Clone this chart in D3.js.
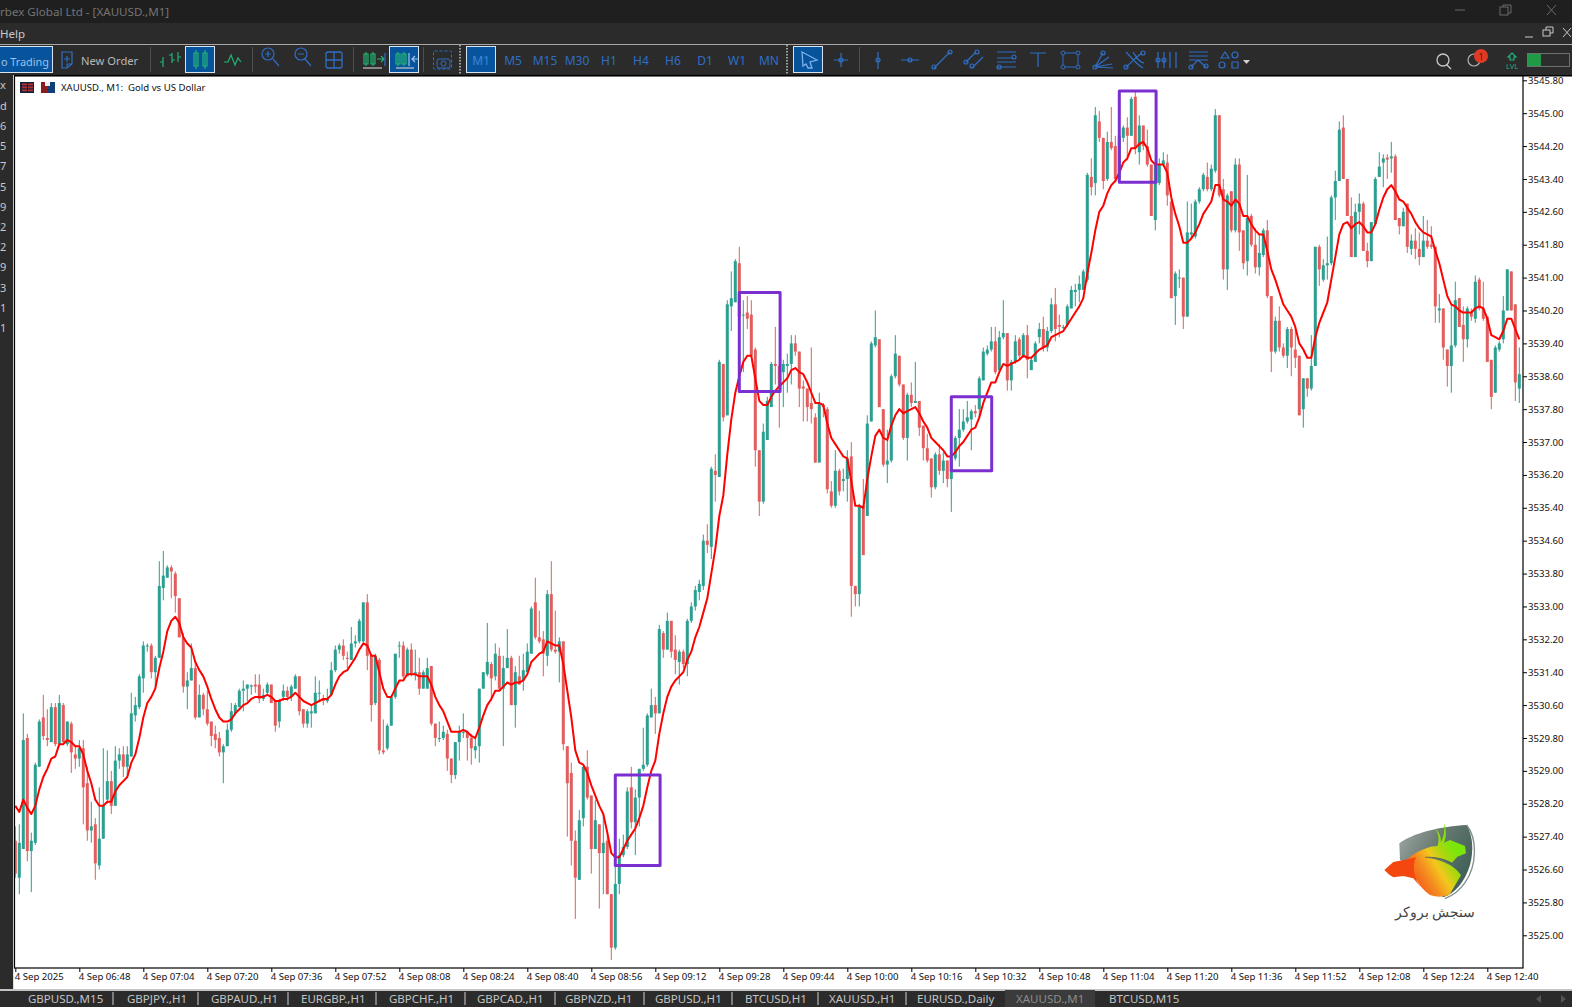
<!DOCTYPE html>
<html>
<head>
<meta charset="utf-8">
<title>XAUUSD M1</title>
<script src="https://cdn.jsdelivr.net/npm/d3@7"></script>
<style>
  html, body { margin: 0; padding: 0; background: #2b2b2b; overflow: hidden; }
  svg { display: block; }
  text { font-family: "Noto Sans", "Liberation Sans", sans-serif; }
</style>
</head>
<body>
<svg id="chart" width="1572" height="1007"></svg>
<script>
// all prices are stored as offset from this base
const priceBase = 3500;

const opens = [
27.3,26.4,27.1,29.8,27.05,27.25,29.1,30.3,29.8,29.7,
30.55,29.65,30.6,29.65,30.15,29.4,29.3,29.55,28.7,27.55,
27.7,26.7,27.35,28.3,28.75,28.15,29.25,29.4,29.1,29.35,
30.35,30.55,31.25,32.05,32.05,31.4,31.75,33.45,33.7,33.95,
33.8,33.2,32.25,31.05,31.2,31.5,30.3,30.85,30.5,30.2,
29.9,29.8,29.45,29.6,30.0,30.4,30.55,30.95,31.0,31.05,
31.1,31.1,30.75,30.9,31.1,30.7,30.2,30.8,30.95,30.8,
31.0,31.3,30.5,30.15,30.4,30.4,30.9,30.75,30.7,30.85,
31.45,31.95,32.05,31.75,31.7,32.1,32.15,32.15,33.1,31.8,
30.65,31.7,29.5,29.55,30.1,30.8,32.05,32.05,31.3,31.95,
31.35,31.4,31.0,31.0,31.55,30.15,29.8,29.8,29.9,29.3,
28.9,29.7,29.95,29.95,29.8,29.5,29.6,31.0,31.35,31.6,
31.3,31.8,31.0,31.5,31.75,30.6,31.3,31.2,31.4,31.85,
33.1,32.25,32.2,31.8,33.3,31.95,31.9,32.15,29.6,28.95,
27.3,26.35,27.85,29.1,28.4,27.1,27.7,27.0,27.3,26.0,
24.7,26.25,26.95,27.15,28.6,27.75,28.35,29.05,29.15,30.3,
30.6,30.4,32.35,31.95,32.65,31.95,31.65,31.9,31.6,32.65,
33.0,33.35,33.5,34.6,34.45,36.3,36.15,38.9,37.65,40.3,
40.4,41.35,40.1,40.15,40.1,39.25,36.8,35.55,37.05,37.85,
38.9,38.85,38.7,38.85,38.9,39.4,39.2,38.35,38.3,37.95,
37.6,36.5,37.9,37.8,35.8,35.45,36.3,36.05,36.1,36.65,
33.5,33.3,35.45,35.2,37.5,39.35,39.5,37.8,36.45,36.55,
38.6,39.1,38.4,37.1,38.15,37.95,38.0,37.4,36.85,36.6,
35.9,36.7,36.3,36.55,36.1,36.6,37.1,37.3,37.5,37.55,
37.75,37.8,38.5,39.15,39.25,39.45,38.75,39.55,39.65,38.5,
38.95,39.5,39.1,39.6,38.75,38.95,39.55,39.75,39.3,39.7,
40.35,39.85,39.8,39.85,40.25,40.65,40.7,40.7,40.95,43.45,
43.3,44.8,44.4,43.4,44.3,44.2,43.4,44.4,44.65,44.45,
45.4,44.05,44.7,44.2,43.75,42.4,43.3,43.75,43.8,42.85,
40.55,41.0,41.0,40.05,42.05,42.0,42.85,43.15,43.45,43.15,
43.6,44.95,43.15,41.2,43.1,42.15,43.75,42.15,41.4,42.5,
41.8,41.25,41.55,42.15,40.55,39.2,39.95,39.3,39.1,39.75,
39.25,39.1,37.8,38.55,38.3,38.85,41.75,40.95,41.3,41.35,
42.95,43.35,44.65,43.4,42.5,41.5,42.6,42.8,41.65,41.4,
42.3,43.45,43.8,43.92,43.9,43.95,42.45,42.25,42.8,41.7,
41.9,41.7,41.5,41.9,41.8,41.75,40.2,40.25,39.25,38.85,
39.35,40.5,39.85,39.5,40.15,40.0,40.95,40.25,40.05,39.0,
38.2,39.25,39.5,40.2,41.15,40.35,38.3];

const closes = [
26.5,27.25,29.75,27.05,27.3,29.15,30.2,29.85,29.75,30.55,
29.65,30.65,29.7,30.2,29.45,29.3,29.55,28.6,27.55,27.65,
26.75,27.35,28.15,28.75,28.15,29.25,29.4,29.1,29.4,30.4,
30.6,31.3,32.05,32.05,31.4,31.75,33.5,33.75,33.95,33.85,
33.25,32.25,31.05,31.2,31.5,30.3,30.85,30.5,30.15,29.85,
29.75,29.45,29.6,30.0,30.45,30.6,30.95,31.0,31.1,31.08,
31.05,30.75,30.85,31.1,30.65,30.1,30.7,30.95,30.8,31.05,
31.3,30.45,30.15,30.45,30.45,30.9,30.9,30.7,30.75,31.45,
31.95,32.05,31.8,31.73,32.1,32.15,32.65,33.1,31.8,30.6,
31.8,29.5,29.45,30.1,30.8,31.85,32.05,31.3,31.95,31.35,
31.4,31.0,31.4,31.5,30.15,29.8,29.8,29.95,29.3,28.9,
29.7,29.95,29.95,29.8,29.55,29.6,31.0,31.4,31.65,31.25,
31.85,31.0,31.5,31.75,30.6,31.4,31.1,31.45,31.9,32.95,
32.25,32.15,31.85,33.3,31.95,31.9,32.15,29.65,28.7,27.3,
26.4,27.8,29.1,28.35,27.1,27.8,27.0,27.25,26.0,24.7,
26.25,26.95,27.15,28.5,27.75,28.35,29.05,29.15,30.35,30.6,
30.4,32.45,31.95,32.65,31.9,31.7,31.9,31.6,32.65,33.0,
33.4,33.55,34.6,34.5,36.35,36.2,38.95,37.6,40.35,40.5,
41.4,40.05,40.1,40.0,39.1,36.8,35.55,37.25,38.0,38.9,
38.85,38.3,38.9,38.9,39.4,39.2,38.3,38.3,37.85,37.8,
36.5,37.95,37.85,35.85,35.45,36.3,35.8,36.1,36.6,33.5,
33.3,35.45,34.25,37.45,39.4,39.55,37.85,36.45,36.55,38.6,
39.15,38.4,37.1,38.15,37.95,38.0,37.35,36.85,36.55,35.9,
36.7,36.3,36.55,36.1,36.6,37.1,37.3,37.5,37.6,37.75,
37.7,38.55,39.2,39.25,39.45,38.7,39.55,39.65,38.5,38.95,
39.45,39.1,39.6,39.0,39.0,39.4,39.75,39.3,39.7,40.35,
39.75,39.8,39.8,40.3,40.7,40.7,40.85,41.15,43.5,43.2,
44.95,44.4,43.35,44.3,44.15,43.4,44.45,44.65,44.45,45.35,
44.15,44.7,44.2,43.75,42.5,43.75,43.75,43.85,43.0,40.5,
41.1,41.0,40.05,42.1,42.1,42.85,43.15,43.5,43.15,43.65,
44.95,43.0,41.2,43.0,42.15,43.75,42.1,41.35,42.45,41.8,
41.25,41.6,42.15,40.55,39.2,39.95,39.3,39.1,39.75,39.3,
39.05,37.65,38.55,38.3,38.85,41.75,41.2,41.3,41.35,42.95,
43.35,44.6,43.4,42.5,41.5,42.6,42.8,41.65,41.4,42.35,
43.4,43.7,43.9,43.87,43.95,42.4,42.25,42.6,41.75,41.9,
41.7,41.5,41.9,41.75,41.75,40.3,40.25,39.3,38.85,39.35,
40.45,39.8,39.5,40.25,40.05,40.9,40.25,40.0,38.95,38.1,
39.3,39.4,40.2,41.2,40.2,38.45,38.65];

const highs = [
27.65,27.7,30.4,29.9,27.5,29.2,30.25,30.85,30.5,30.65,
30.65,30.85,30.65,30.2,30.2,29.6,29.75,29.75,29.1,28.25,
27.85,28.6,29.55,29.5,29.0,29.6,29.55,29.6,29.6,30.9,
30.8,31.35,32.15,32.1,32.1,31.8,34.1,34.35,34.0,34.0,
33.85,33.2,32.35,31.4,32.1,31.65,31.1,30.9,30.95,30.2,
30.1,29.95,29.65,30.15,30.65,30.65,31.0,31.2,31.1,31.1,
31.35,31.35,31.0,31.15,31.1,30.7,30.75,31.1,31.05,31.1,
31.35,31.3,30.5,30.5,30.6,31.3,31.2,30.85,31.0,31.65,
32.05,32.1,32.2,31.9,32.5,32.3,32.7,33.1,33.3,31.85,
31.85,31.75,30.25,30.15,30.85,31.85,32.15,32.15,32.0,32.1,
31.95,31.75,31.45,31.75,31.55,30.15,30.2,30.1,30.0,29.3,
29.7,30.1,30.4,29.98,29.9,29.8,31.0,31.4,32.6,31.65,
32.1,32.0,31.8,32.45,31.8,31.55,31.8,31.85,32.1,33.0,
33.7,32.9,32.4,33.4,34.1,32.9,32.25,32.15,29.6,29.2,
27.55,28.05,29.1,29.5,28.4,28.3,27.7,27.95,27.5,26.0,
26.75,27.35,27.45,28.6,29.1,28.55,29.05,30.05,30.4,31.0,
30.8,32.55,32.4,32.85,32.65,32.3,31.95,31.95,32.7,33.1,
33.5,33.65,34.75,35.0,36.4,36.7,39.0,38.9,40.45,41.15,
41.45,41.75,40.45,40.55,40.45,39.3,36.8,37.45,38.1,38.95,
39.8,38.9,39.0,39.15,39.6,39.6,39.2,38.5,38.3,39.3,
37.7,38.2,37.95,37.85,36.05,36.8,36.35,36.35,36.8,37.0,
33.5,35.5,36.1,37.65,39.45,40.2,39.5,37.8,37.3,38.65,
39.6,39.1,38.4,38.2,38.45,38.95,38.0,37.4,37.2,36.6,
36.75,36.95,36.75,36.55,36.7,37.15,37.8,37.8,38.0,37.8,
37.9,38.6,39.3,39.35,39.8,39.8,39.7,40.45,39.65,39.0,
39.6,39.55,39.65,39.85,39.05,39.45,39.9,40.05,39.8,40.5,
40.75,40.1,39.85,40.35,40.8,40.85,41.05,41.2,43.55,43.9,
45.15,45.05,44.4,44.55,45.15,44.45,44.5,44.7,44.9,45.4,
45.55,44.95,44.7,44.6,43.75,43.85,43.9,44.05,44.0,42.9,
41.15,41.2,41.0,42.85,42.8,42.9,43.2,43.55,43.8,43.75,
45.1,44.95,43.4,43.05,43.1,43.9,43.9,42.15,43.5,42.55,
42.2,42.05,42.2,42.4,40.55,40.05,40.3,39.4,39.8,39.8,
39.8,39.1,38.55,38.55,39.6,41.75,41.8,41.45,42.0,43.0,
43.6,44.8,44.95,43.4,42.95,42.8,43.05,42.85,41.85,42.35,
43.45,44.05,44.0,44.0,44.3,44.0,42.45,42.7,42.8,42.05,
42.2,42.1,42.5,42.4,42.25,41.75,40.6,40.25,39.25,40.35,
40.9,40.5,40.3,40.3,40.25,41.05,41.0,40.9,40.05,39.0,
39.35,39.45,40.55,41.2,41.15,40.35,39.3];

const lows = [
26.4,26.0,27.1,26.8,26.05,27.2,29.1,29.75,29.6,29.7,
29.6,29.6,29.65,29.6,28.95,29.05,29.1,27.7,27.3,27.25,
26.35,26.6,27.35,28.2,27.95,28.15,29.05,28.85,28.85,29.35,
30.2,30.5,30.9,31.9,31.25,31.0,31.75,33.15,33.7,33.2,
32.85,32.25,30.9,30.5,31.2,30.25,30.3,30.35,30.1,29.6,
29.55,29.35,28.7,29.6,29.95,30.35,30.55,30.45,30.7,30.85,
30.9,30.65,30.7,30.85,30.65,29.95,30.05,30.7,30.7,30.7,
31.0,30.35,30.05,30.05,30.05,30.4,30.7,30.6,30.65,30.85,
31.4,31.85,31.7,31.5,31.7,32.0,32.1,32.1,31.45,30.2,
30.6,29.4,29.4,29.5,30.1,30.75,31.75,31.25,31.3,31.3,
31.2,30.85,31.0,31.0,30.1,29.6,29.7,29.75,29.0,28.7,
28.8,29.25,29.8,29.25,29.15,29.3,29.2,31.0,31.3,30.7,
31.2,30.95,29.6,31.5,30.6,30.05,31.1,30.95,31.4,31.85,
32.2,32.1,31.3,31.55,31.9,31.85,31.15,29.5,27.4,26.7,
25.4,26.35,27.65,28.3,26.5,27.1,25.65,26.0,26.0,24.4,
24.65,26.0,26.9,27.1,27.6,26.95,27.65,29.0,29.1,30.3,
29.9,30.4,31.75,31.95,31.75,31.35,31.1,31.5,31.3,32.6,
32.9,33.15,33.4,34.3,34.15,35.55,36.15,37.5,37.65,39.7,
40.4,38.7,38.7,39.75,39.1,36.4,35.2,35.5,37.05,37.85,
38.4,37.35,37.85,38.2,38.4,39.1,37.85,37.5,37.5,37.45,
36.5,36.5,37.6,35.75,35.4,35.4,35.7,35.8,35.55,32.75,
33.0,33.0,34.25,35.2,37.5,39.3,37.85,36.4,36.0,36.5,
38.55,38.35,37.05,36.55,37.85,37.95,37.15,36.55,36.5,35.65,
35.85,36.2,36.0,35.9,35.3,36.55,36.4,37.25,37.45,36.8,
37.6,37.6,38.5,39.1,39.2,38.65,38.7,39.5,38.25,38.25,
38.9,39.0,39.05,38.55,38.75,38.95,39.4,39.2,39.2,39.65,
39.45,39.55,39.75,39.8,40.25,40.3,40.4,40.7,40.9,43.0,
43.0,44.3,43.15,43.35,44.1,43.35,43.35,44.3,43.85,44.45,
44.0,43.75,44.1,43.7,42.5,42.15,43.25,43.7,42.75,40.5,
39.85,40.75,39.75,40.05,41.95,41.95,42.8,43.1,43.1,43.1,
43.55,42.95,40.95,40.7,42.1,42.1,41.65,41.2,41.05,41.75,
41.1,41.05,41.5,40.5,38.7,39.15,39.2,39.05,38.8,38.6,
38.8,37.65,37.35,38.1,38.25,38.85,40.8,40.9,40.95,41.3,
42.4,43.35,43.4,42.5,41.5,41.5,42.05,41.65,41.25,41.4,
42.3,43.45,43.2,43.4,43.55,42.4,42.05,42.25,41.6,41.55,
41.45,41.3,41.5,41.7,41.7,39.9,39.9,39.0,38.35,38.2,
39.3,39.8,38.95,39.3,39.95,39.9,40.2,39.95,38.95,37.8,
38.2,39.2,39.4,40.2,40.2,38.0,37.95];

// red moving average, one value per bar
const maValues = [
28.15,28.0,28.3,28.1,27.95,28.15,28.55,28.85,29.05,29.3,
29.35,29.65,29.65,29.75,29.7,29.6,29.6,29.4,29.0,28.7,
28.3,28.15,28.15,28.25,28.25,28.5,28.65,28.75,28.85,29.2,
29.4,29.8,30.3,30.65,30.8,31.0,31.5,31.9,32.4,32.65,
32.75,32.6,32.25,32.1,32.0,31.65,31.45,31.3,31.05,30.75,
30.5,30.3,30.2,30.2,30.25,30.4,30.5,30.6,30.65,30.75,
30.8,30.8,30.8,30.85,30.8,30.7,30.7,30.75,30.75,30.8,
30.9,30.8,30.7,30.65,30.6,30.65,30.7,30.75,30.75,30.85,
31.1,31.3,31.4,31.45,31.6,31.75,31.95,32.1,32.05,31.8,
31.8,31.4,31.0,30.8,30.8,31.0,31.2,31.2,31.35,31.35,
31.35,31.3,31.3,31.3,31.1,30.8,30.6,30.45,30.2,29.95,
29.95,29.95,30.0,29.95,29.85,29.8,30.05,30.35,30.6,30.75,
30.95,30.95,31.05,31.15,31.1,31.15,31.15,31.2,31.35,31.65,
31.75,31.85,31.9,32.15,32.1,32.05,32.05,31.6,30.95,30.3,
29.5,29.2,29.15,28.95,28.65,28.4,28.15,27.95,27.5,27.0,
26.9,26.9,27.1,27.3,27.45,27.6,27.85,28.15,28.6,29.0,
29.25,29.9,30.4,30.8,31.05,31.2,31.3,31.4,31.7,31.9,
32.25,32.5,32.85,33.2,33.8,34.4,35.2,35.7,36.7,37.55,
38.2,38.6,38.95,39.1,39.1,38.55,38.0,37.9,37.9,38.1,
38.25,38.35,38.45,38.55,38.75,38.8,38.7,38.65,38.45,38.2,
37.95,37.95,37.9,37.45,37.1,36.95,36.8,36.65,36.6,36.05,
35.45,35.45,35.4,36.1,36.65,37.15,37.3,37.1,37.05,37.4,
37.65,37.8,37.7,37.75,37.8,37.85,37.7,37.5,37.35,37.1,
37.0,36.9,36.8,36.65,36.65,36.75,36.9,37.0,37.15,37.3,
37.35,37.6,37.95,38.2,38.45,38.45,38.7,38.9,38.85,38.9,
38.95,39.0,39.1,39.05,39.05,39.15,39.25,39.3,39.35,39.55,
39.6,39.65,39.7,39.85,40.0,40.15,40.3,40.5,41.1,41.6,
42.15,42.6,42.75,43.05,43.25,43.35,43.55,43.8,43.9,44.15,
44.15,44.25,44.3,44.15,43.85,43.75,43.75,43.75,43.55,42.95,
42.55,42.25,41.85,41.85,41.95,42.1,42.3,42.55,42.7,42.85,
43.25,43.25,42.9,42.85,42.75,42.9,42.8,42.5,42.5,42.3,
42.15,42.05,42.05,41.65,41.2,40.95,40.65,40.35,40.2,40.05,
39.8,39.4,39.25,39.05,39.05,39.55,39.9,40.15,40.4,40.95,
41.5,42.05,42.3,42.35,42.2,42.3,42.35,42.25,42.1,42.1,
42.3,42.65,42.95,43.15,43.25,43.1,42.9,42.85,42.7,42.55,
42.35,42.2,42.1,42.05,42.0,41.65,41.35,40.95,40.55,40.35,
40.3,40.2,40.15,40.15,40.15,40.25,40.3,40.25,40.0,39.6,
39.55,39.5,39.7,40.0,40.0,39.75,39.5];

const priceTicks = [
3545.8,3545.0,3544.2,3543.4,3542.6,3541.8,3541.0,3540.2,3539.4,3538.6,3537.8,3537.0,3536.2,
3535.4,3534.6,3533.8,3533.0,3532.2,3531.4,3530.6,3529.8,3529.0,3528.2,3527.4,3526.6,3525.8,3525.0];

const timeLabels = [
'4 Sep 2025','4 Sep 06:48','4 Sep 07:04','4 Sep 07:20','4 Sep 07:36','4 Sep 07:52','4 Sep 08:08','4 Sep 08:24',
'4 Sep 08:40','4 Sep 08:56','4 Sep 09:12','4 Sep 09:28','4 Sep 09:44','4 Sep 10:00','4 Sep 10:16','4 Sep 10:32',
'4 Sep 10:48','4 Sep 11:04','4 Sep 11:20','4 Sep 11:36','4 Sep 11:52','4 Sep 12:08','4 Sep 12:24','4 Sep 12:40'];
const barsPerLabel = 16;

// purple boxes drawn on the chart, in bar index and price
const boxStart = [150, 181, 234, 276];
const boxEnd = [161.2, 191.2, 244.1, 285.2];
const boxHigh = [3528.9, 3540.64, 3538.1, 3545.54];
const boxLow = [3526.7, 3538.23, 3536.3, 3543.32];

const tabNames = ['GBPUSD.,M15','GBPJPY.,H1','GBPAUD.,H1','EURGBP.,H1','GBPCHF.,H1','GBPCAD.,H1','GBPNZD.,H1','GBPUSD.,H1','BTCUSD,H1','XAUUSD.,H1','EURUSD.,Daily','XAUUSD.,M1','BTCUSD,M15'];
const tabStarts = [28,127,211,301,389,477,565,655,745,829,917,1016,1109];
const tabSeparators = [113,198,288,376,465,555,644,732,818,906];

const timeframes = ['M1','M5','M15','M30','H1','H4','H6','D1','W1','MN'];
const leftStripChars = ['x','d','6','5','7','5','9','2','2','9','3','1','1'];

const GREEN = '#2c9f90', RED = '#e25d5d', BLUE = '#2f6ec6', BTN = '#07549c';

const svg = d3.select('#chart');

function label(parent, x, y, str, size, fill, anchor) {
  return parent.append('text').attr('x', x).attr('y', y)
    .attr('font-size', size).attr('fill', fill)
    .attr('text-anchor', anchor || 'start').attr('dominant-baseline', 'central')
    .text(str);
}

// page backgrounds
svg.append('rect').attr('width', 1572).attr('height', 1007).attr('fill', '#2b2b2b');
svg.append('rect').attr('width', 1572).attr('height', 23).attr('fill', '#1f1f1f');
svg.append('rect').attr('y', 44).attr('width', 1572).attr('height', 1).attr('fill', '#a8a8a8');
svg.append('rect').attr('x', 14).attr('y', 75).attr('width', 1558).attr('height', 915).attr('fill', '#fff');
svg.append('rect').attr('y', 75).attr('width', 1572).attr('height', 1.5).attr('fill', '#000');
svg.append('rect').attr('x', 0).attr('y', 75).attr('width', 13).attr('height', 915).attr('fill', '#2b2b2b');
svg.append('rect').attr('x', 13).attr('y', 75).attr('width', 1).attr('height', 915).attr('fill', '#ddd');
svg.append('rect').attr('y', 989).attr('width', 1572).attr('height', 2).attr('fill', '#c4c4c4');

// scales
const plotArea = { left: 15, right: 1523, top: 76, bottom: 968 };
const xScale = d3.scaleLinear().domain([0, opens.length - 1]).range([15.3, 1519.3]);
const yScale = d3.scaleLinear().domain([3545.8, 3525.0]).range([80.3, 935.3]);
const yPrice = v => yScale(priceBase + v);

svg.append('clipPath').attr('id', 'plot').append('rect')
  .attr('x', plotArea.left).attr('y', plotArea.top)
  .attr('width', plotArea.right - plotArea.left).attr('height', plotArea.bottom - plotArea.top);

const plot = svg.append('g').attr('clip-path', 'url(#plot)');
const candles = plot.append('g').selectAll('g').data(opens).join('g');

candles.append('line')
  .attr('x1', (d, i) => xScale(i)).attr('x2', (d, i) => xScale(i))
  .attr('y1', (d, i) => yPrice(highs[i])).attr('y2', (d, i) => yPrice(lows[i]))
  .attr('stroke', (d, i) => closes[i] >= d ? GREEN : RED).attr('stroke-width', 1);

candles.append('rect')
  .attr('x', (d, i) => xScale(i) - 1.5).attr('width', 3)
  .attr('y', (d, i) => yPrice(Math.max(d, closes[i])))
  .attr('height', (d, i) => Math.max(1, Math.abs(yPrice(d) - yPrice(closes[i]))))
  .attr('fill', (d, i) => closes[i] >= d ? GREEN : RED);

plot.append('path').datum(maValues)
  .attr('fill', 'none').attr('stroke', '#f00').attr('stroke-width', 2).attr('stroke-linejoin', 'round')
  .attr('d', d3.line().x((d, i) => xScale(i)).y(d => yPrice(d)));

plot.append('g').selectAll('rect').data(boxStart).join('rect')
  .attr('x', d => xScale(d))
  .attr('width', (d, i) => xScale(boxEnd[i]) - xScale(d))
  .attr('y', (d, i) => yScale(boxHigh[i]))
  .attr('height', (d, i) => yScale(boxLow[i]) - yScale(boxHigh[i]))
  .attr('fill', 'none').attr('stroke', '#7b2fd1').attr('stroke-width', 3).attr('stroke-linejoin', 'round');

// axes
const yAxis = d3.axisRight(yScale).tickValues(priceTicks).tickFormat(d3.format('.2f')).tickSize(4).tickSizeOuter(0);
const yAxisG = svg.append('g').attr('transform', `translate(${plotArea.right},0)`).call(yAxis);
yAxisG.select('.domain').remove();
yAxisG.selectAll('text').attr('x', 5).attr('font-size', 9.6).attr('fill', '#111').attr('font-family', '"Noto Sans", sans-serif');

const xTicks = timeLabels.map((d, i) => i * barsPerLabel);
const xAxis = d3.axisBottom(xScale).tickValues(xTicks).tickFormat((d, i) => timeLabels[i]).tickSize(4).tickSizeOuter(0);
const xAxisG = svg.append('g').attr('transform', `translate(0,${plotArea.bottom})`).call(xAxis);
xAxisG.select('.domain').remove();
xAxisG.selectAll('text').attr('text-anchor', 'start').attr('x', -1).attr('y', 5).attr('dy', '0.71em')
  .attr('font-size', 9.6).attr('fill', '#111').attr('font-family', '"Noto Sans", sans-serif');

// outline around the plot
svg.append('rect').attr('x', plotArea.left - 0.5).attr('y', plotArea.top - 0.5)
  .attr('width', plotArea.right - plotArea.left + 0.5).attr('height', plotArea.bottom - plotArea.top + 0.5)
  .attr('fill', 'none').attr('stroke', '#000').attr('stroke-width', 1.2);

// chart header
const head = svg.append('g');
head.append('rect').attr('x', 20).attr('y', 82).attr('width', 14).attr('height', 11).attr('fill', '#14213d');
[0, 1, 2].forEach(r => head.append('rect').attr('x', 22).attr('y', 83.5 + r * 3).attr('width', 5).attr('height', 1.8).attr('fill', '#b7312c'));
[0, 1, 2].forEach(r => head.append('rect').attr('x', 28).attr('y', 83.5 + r * 3).attr('width', 5).attr('height', 1.8).attr('fill', '#b7312c'));
head.append('rect').attr('x', 41).attr('y', 82).attr('width', 7).attr('height', 11).attr('fill', '#8c1c1c');
head.append('rect').attr('x', 48).attr('y', 82).attr('width', 7).attr('height', 11).attr('fill', '#123f78');
head.append('rect').attr('x', 45).attr('y', 82).attr('width', 5).attr('height', 4).attr('fill', '#eee');
label(head, 61, 87.5, 'XAUUSD., M1:\u00a0 Gold vs US Dollar', 9.6, '#111');

// title bar and menu
const titleBar = svg.append('g');
label(titleBar, 0, 11.5, 'rbex Global Ltd - [XAUUSD.,M1]', 11.6, '#747474');
label(titleBar, 0, 33, 'Help', 11.5, '#c9c9c9');
titleBar.append('path').attr('d', 'M1455,10H1465M1547,5L1556,15M1556,5L1547,15').attr('stroke', '#6a6a6a').attr('fill', 'none');
titleBar.append('rect').attr('x', 1500).attr('y', 7).attr('width', 8).attr('height', 8).attr('fill', 'none').attr('stroke', '#6a6a6a');
titleBar.append('path').attr('d', 'M1503,7V5H1511V13H1508').attr('stroke', '#6a6a6a').attr('fill', 'none');
titleBar.append('path').attr('d', 'M1525,37H1533M1563,28L1571,37M1571,28L1563,37').attr('stroke', '#c8c8c8').attr('fill', 'none');
titleBar.append('rect').attr('x', 1543).attr('y', 30).attr('width', 7).attr('height', 6).attr('fill', 'none').attr('stroke', '#c8c8c8');
titleBar.append('path').attr('d', 'M1546,30V27H1553V33H1550').attr('stroke', '#c8c8c8').attr('fill', 'none');

// toolbar
const bar = svg.append('g');
function button(x, w) {
  bar.append('rect').attr('x', x + 0.5).attr('y', 46.5).attr('width', w).attr('height', 26)
    .attr('fill', BTN).attr('stroke', '#d8e4f0');
}
function icon(d, color, width) {
  return bar.append('path').attr('d', d).attr('fill', 'none')
    .attr('stroke', color || BLUE).attr('stroke-width', width || 1.2);
}
function separator(x) {
  bar.append('rect').attr('x', x).attr('y', 47).attr('width', 1).attr('height', 25).attr('fill', '#4f4f4f');
}
function dots(x) {
  bar.append('line').attr('x1', x).attr('x2', x).attr('y1', 45).attr('y2', 74)
    .attr('stroke', '#c8c8c8').attr('stroke-width', 1.5).attr('stroke-dasharray', '1.5,1.5');
}
[185, 389, 466, 793].forEach(x => button(x, 29));
button(-3, 55);
[150, 252, 353, 423, 859].forEach(separator);
[460, 787].forEach(dots);

label(bar, 1, 61, 'o Trading', 10.8, '#9fc3ec');
icon('M62,52H72V64L67,68H62ZM67,68V64H72M64,59H70M67,56V62');
label(bar, 81, 60, 'New Order', 11.2, '#b8b8b8');

icon('M163,57V67M160,62H163M172,53V63M172,55H169M175,60H172M178,52V62M178,57H181', '#22b573');
icon('M194,53H198V66H194ZM196,50V69M203,53H207V66H203ZM205,50V69', '#22b573');
icon('M224,62L228,62L231,55L235,65L238,58L241,62', '#22b573');
icon('M262,54a6,6 0 1,0 12,0a6,6 0 1,0 -12,0M268,51V57M265,54H271M273,59L279,66');
icon('M295,54a6,6 0 1,0 12,0a6,6 0 1,0 -12,0M298,54H304M305,59L311,66');
bar.append('rect').attr('x', 326).attr('y', 52).attr('width', 16).attr('height', 16).attr('rx', 2).attr('fill', 'none').attr('stroke', BLUE).attr('stroke-width', 1.3);
icon('M334,52V68M326,60H342', BLUE, 1.3);
icon('M364,54H368V64H364ZM366,52V66M371,54H375V64H371ZM373,52V66', '#22b573');
icon('M377,59H384M381,56L384,59L381,62', '#22b573');
icon('M385,53V66', BLUE);
icon('M363,68H382', '#c8c8c8');
icon('M396,54H400V64H396ZM398,52V66M402,54H406V64H402ZM404,52V66', '#22b573');
icon('M409,53V66M419,59H412M415,56L412,59L415,62', '#9fc3ec');
icon('M396,68H414', '#c8c8c8');
bar.append('rect').attr('x', 433.5).attr('y', 51).attr('width', 18).attr('height', 18).attr('rx', 1).attr('fill', 'none').attr('stroke', BLUE).attr('stroke-dasharray', '3,2');
bar.append('rect').attr('x', 437).attr('y', 59).attr('width', 13).attr('height', 9).attr('rx', 2).attr('fill', '#2d2d2d').attr('stroke', BLUE);
bar.append('circle').attr('cx', 443.5).attr('cy', 63.5).attr('r', 2.5).attr('fill', 'none').attr('stroke', BLUE);

// timeframe buttons
bar.selectAll('text.tf').data(timeframes).join('text').attr('class', 'tf')
  .attr('x', (d, i) => 481 + i * 32).attr('y', 60)
  .attr('text-anchor', 'middle').attr('dominant-baseline', 'central')
  .attr('font-size', 12).attr('fill', (d, i) => i === 0 ? '#3f86dc' : BLUE).text(d => d);

icon('M802,52L817,60L810,62L812,68L808,68L806,64L803,66Z', '#7fb0ea', 1.3);
icon('M834,60H848M841,53V67M841,60m-2,0a2,2 0 1,0 4,0a2,2 0 1,0 -4,0');
icon('M878,52V69M876,60a2,2 0 1,0 4,0a2,2 0 1,0 -4,0');
icon('M901,60H919M908,60a2,2 0 1,0 4,0a2,2 0 1,0 -4,0');
icon('M934,68L950,52M932,67a2,2 0 1,0 4,0a2,2 0 1,0 -4,0M948,52a2,2 0 1,0 4,0a2,2 0 1,0 -4,0');
icon('M966,62L976,52M972,68L983,57M964,62a2,2 0 1,0 4,0a2,2 0 1,0 -4,0M975,52a2,2 0 1,0 4,0a2,2 0 1,0 -4,0M970,66a2,2 0 1,0 4,0a2,2 0 1,0 -4,0');
icon('M997,52H1016M997,58H1012M997,62H1016M997,67H1016M1012,57a2,2 0 1,0 4,0a2,2 0 1,0 -4,0M997,67a2,2 0 1,0 4,0a2,2 0 1,0 -4,0');
icon('M1030,53H1046M1038,53V67');
bar.append('rect').attr('x', 1063).attr('y', 53).attr('width', 15).attr('height', 14).attr('fill', 'none').attr('stroke', BLUE);
[[1063, 53], [1078, 53], [1063, 67], [1078, 67]].forEach(c => bar.append('circle').attr('cx', c[0]).attr('cy', c[1]).attr('r', 2).attr('fill', '#2d2d2d').attr('stroke', BLUE));
icon('M1095,67L1103,53M1095,67L1109,57M1095,67L1112,64M1095,67L1113,68M1093,67a2,2 0 1,0 4,0a2,2 0 1,0 -4,0M1101,53a2,2 0 1,0 4,0a2,2 0 1,0 -4,0');
icon('M1126,52C1132,58 1136,64 1143,68M1126,67C1132,62 1136,57 1142,53M1133,52C1137,58 1139,62 1144,63M1124,67a2,2 0 1,0 4,0a2,2 0 1,0 -4,0M1141,53a2,2 0 1,0 4,0a2,2 0 1,0 -4,0');
icon('M1158,52V68M1164,52V68M1170,52V68M1176,52V68M1156,60a2,2 0 1,0 4,0a2,2 0 1,0 -4,0M1162,60a2,2 0 1,0 4,0a2,2 0 1,0 -4,0');
icon('M1189,52H1208M1189,56H1208M1189,60H1208M1191,67L1198,60L1206,67M1189,67a2,2 0 1,0 4,0a2,2 0 1,0 -4,0M1204,66a2,2 0 1,0 4,0a2,2 0 1,0 -4,0');
icon('M1221,58L1225,52L1229,58ZM1232,55a3,3 0 1,0 6,0a3,3 0 1,0 -6,0M1219,65a3,3 0 1,0 6,0a3,3 0 1,0 -6,0M1232,62H1238V68H1232Z');
bar.append('path').attr('d', 'M1243,60H1250L1246.5,64Z').attr('fill', '#d0d0d0');

icon('M1437,60a6,6 0 1,0 12,0a6,6 0 1,0 -12,0M1447,65L1451,69', '#c8c8c8', 1.3);
bar.append('circle').attr('cx', 1474).attr('cy', 60).attr('r', 6).attr('fill', 'none').attr('stroke', '#b0b0b0').attr('stroke-width', 1.2);
bar.append('circle').attr('cx', 1481).attr('cy', 56).attr('r', 7).attr('fill', '#e03a24');
label(bar, 1481, 56, '1', 9, '#4a1a10', 'middle');
icon('M1512,53L1516,57H1514V60H1510V57H1508Z', '#1fb57a');
label(bar, 1512, 65.5, 'LVL', 7.5, '#1fb57a', 'middle');
bar.append('rect').attr('x', 1527.5).attr('y', 53.5).attr('width', 42).attr('height', 13).attr('fill', '#2d2d2d').attr('stroke', '#6f6f6f');
bar.append('rect').attr('x', 1528).attr('y', 54).attr('width', 13).attr('height', 12).attr('fill', '#1f9a45');

// left strip, the clipped list of an undocked panel
const strip = svg.append('g');
strip.selectAll('text').data(leftStripChars).join('text')
  .attr('x', 0).attr('y', (d, i) => i === 0 ? 84 : 85 + i * 20.2)
  .attr('font-size', 11).attr('fill', '#c8c8c8').attr('dominant-baseline', 'central').text(d => d);

// tabs
const tabs = svg.append('g');
tabs.append('rect').attr('x', 1005).attr('y', 990).attr('width', 90).attr('height', 17).attr('fill', '#3b3b3b');
tabs.selectAll('text').data(tabNames).join('text')
  .attr('x', (d, i) => tabStarts[i]).attr('y', 998.5)
  .attr('font-size', 11.5).attr('dominant-baseline', 'central')
  .attr('fill', d => d === 'XAUUSD.,M1' ? '#8c8c8c' : '#c4c4c4').text(d => d);
tabs.selectAll('line').data(tabSeparators).join('line')
  .attr('x1', d => d).attr('x2', d => d).attr('y1', 992).attr('y2', 1005).attr('stroke', '#d0d0d0');
tabs.append('path').attr('d', 'M1541,995L1536,999L1541,1003ZM1561,995L1566,999L1561,1003Z').attr('fill', '#555');

// broker logo watermark
const defs = svg.append('defs');
const g1 = defs.append('linearGradient').attr('id', 'body').attr('x1', 0).attr('y1', 0.8).attr('x2', 0.85).attr('y2', 0.15);
[[0, '#f24a12'], [0.3, '#f58a20'], [0.5, '#f3c81c'], [0.68, '#a6d80e'], [0.85, '#7ce60a'], [1, '#7ce60a']].forEach(s => g1.append('stop').attr('offset', s[0]).attr('stop-color', s[1]));
const g2 = defs.append('linearGradient').attr('id', 'shield').attr('x1', 0).attr('y1', 0).attr('x2', 1).attr('y2', 0.6);
[[0, '#a3aaa8'], [0.5, '#66796f'], [1, '#3f5f58']].forEach(s => g2.append('stop').attr('offset', s[0]).attr('stop-color', s[1]));

const logo = svg.append('g').attr('transform', 'translate(1350,800) scale(0.3333)');
logo.append('path').attr('fill', 'url(#shield)')
  .attr('d', 'M148,130C185,100 275,78 350,75C368,105 372,150 360,195C345,245 315,280 280,292L200,240L150,178Z');
logo.append('path').attr('fill', 'none').attr('stroke', '#7f8f8a').attr('stroke-width', 4)
  .attr('d', 'M350,75C382,115 382,195 345,248C330,270 305,288 285,296');
logo.append('path').attr('fill', 'url(#body)')
  .attr('d', 'M172,178C200,152 240,138 262,138C270,120 265,100 255,85C270,100 275,115 272,128C282,110 285,90 282,68C291,95 288,115 282,128L300,120L345,138L348,160L322,170L306,188C280,175 250,170 225,172C265,178 312,192 333,226L298,285Q268,296 240,285C205,262 190,225 172,178Z');
logo.append('path').attr('fill', '#f4470f')
  .attr('d', 'M103,210L130,186L172,178L198,172C186,200 190,232 212,262L190,235L160,228L130,232L118,224Z');
logo.append('path').attr('fill', 'none').attr('stroke', '#555').attr('stroke-width', 2)
  .attr('d', 'M225,172C250,170 285,176 306,190');
svg.append('text').attr('x', 1435).attr('y', 911).attr('text-anchor', 'middle').attr('dominant-baseline', 'central')
  .attr('font-family', '"DejaVu Sans", sans-serif').attr('font-size', 14).attr('fill', '#444')
  .attr('direction', 'rtl').text('سنجش بروکر');
</script>
</body>
</html>
